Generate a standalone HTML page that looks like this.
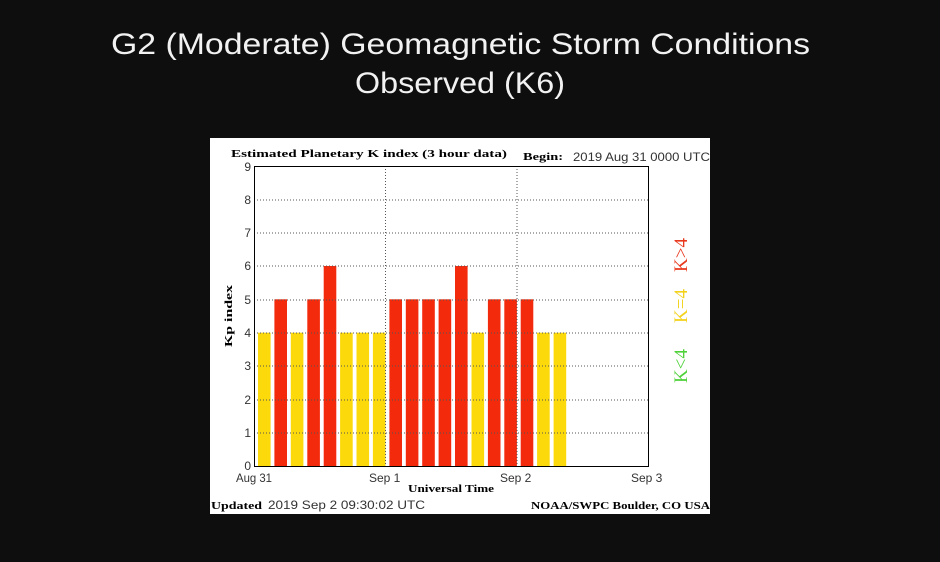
<!DOCTYPE html>
<html><head><style>html,body{margin:0;padding:0;background:#0e0e0e;}svg{display:block}</style></head>
<body>
<svg width="940" height="562" xmlns="http://www.w3.org/2000/svg">
<rect width="940" height="562" fill="#0e0e0e"/>
<g font-family="Liberation Sans, sans-serif" fill="#f2f2f2" font-size="30">
<text x="111" y="54" textLength="699" lengthAdjust="spacingAndGlyphs">G2 (Moderate) Geomagnetic Storm Conditions</text>
<text x="355" y="93" textLength="210" lengthAdjust="spacingAndGlyphs">Observed (K6)</text>
</g>
<rect x="210" y="138" width="500" height="376" fill="#fff"/>
<g font-family="Liberation Serif, serif" font-weight="bold" font-size="11" fill="#000">
<text x="231" y="157" textLength="276" lengthAdjust="spacingAndGlyphs">Estimated Planetary K index (3 hour data)</text>
<text x="523" y="160" textLength="40" lengthAdjust="spacingAndGlyphs">Begin:</text>
<text x="408" y="492" textLength="86" lengthAdjust="spacingAndGlyphs">Universal Time</text>
<text x="211" y="509" textLength="51" lengthAdjust="spacingAndGlyphs">Updated</text>
<text x="531" y="509" textLength="179" lengthAdjust="spacingAndGlyphs">NOAA/SWPC Boulder, CO USA</text>
<text transform="translate(232,347) rotate(-90)" textLength="62" lengthAdjust="spacingAndGlyphs">Kp index</text>
</g>
<g fill="#fcd90a">
<rect x="258.0" y="332.7" width="12.6" height="133.3"/>
<rect x="290.8" y="332.7" width="12.6" height="133.3"/>
<rect x="340.1" y="332.7" width="12.6" height="133.3"/>
<rect x="356.5" y="332.7" width="12.6" height="133.3"/>
<rect x="372.9" y="332.7" width="12.6" height="133.3"/>
<rect x="471.5" y="332.7" width="12.6" height="133.3"/>
<rect x="537.1" y="332.7" width="12.6" height="133.3"/>
<rect x="553.6" y="332.7" width="12.6" height="133.3"/>
</g>
<g fill="#f42a0c">
<rect x="274.4" y="299.3" width="12.6" height="166.7"/>
<rect x="307.3" y="299.3" width="12.6" height="166.7"/>
<rect x="323.7" y="266" width="12.6" height="200"/>
<rect x="389.4" y="299.3" width="12.6" height="166.7"/>
<rect x="405.8" y="299.3" width="12.6" height="166.7"/>
<rect x="422.2" y="299.3" width="12.6" height="166.7"/>
<rect x="438.6" y="299.3" width="12.6" height="166.7"/>
<rect x="455.0" y="266" width="12.6" height="200"/>
<rect x="487.9" y="299.3" width="12.6" height="166.7"/>
<rect x="504.3" y="299.3" width="12.6" height="166.7"/>
<rect x="520.7" y="299.3" width="12.6" height="166.7"/>
</g>
<g font-family="Liberation Sans, sans-serif" font-size="12" fill="#333">
<text x="573" y="161" textLength="137" lengthAdjust="spacingAndGlyphs">2019 Aug 31 0000 UTC</text>
<text x="268" y="509" textLength="157" lengthAdjust="spacingAndGlyphs">2019 Sep  2 09:30:02 UTC</text>
<text x="236" y="482" textLength="36" lengthAdjust="spacingAndGlyphs">Aug 31</text>
<text x="369" y="482">Sep 1</text>
<text x="500" y="482">Sep 2</text>
<text x="631" y="482">Sep 3</text>
<g text-anchor="end">
<text x="251" y="470">0</text><text x="251" y="437">1</text><text x="251" y="404">2</text>
<text x="251" y="370">3</text><text x="251" y="337">4</text><text x="251" y="304">5</text>
<text x="251" y="270">6</text><text x="251" y="237">7</text><text x="251" y="204">8</text>
<text x="251" y="171">9</text>
</g>
</g>
<g stroke="#555" stroke-width="1" stroke-dasharray="1,2" fill="none">
<line x1="254" y1="433" x2="648" y2="433"/><line x1="254" y1="400" x2="648" y2="400"/>
<line x1="254" y1="366" x2="648" y2="366"/><line x1="254" y1="333" x2="648" y2="333"/>
<line x1="254" y1="300" x2="648" y2="300"/><line x1="254" y1="266" x2="648" y2="266"/>
<line x1="254" y1="233" x2="648" y2="233"/><line x1="254" y1="200" x2="648" y2="200"/>
<line x1="385.5" y1="166" x2="385.5" y2="466"/><line x1="517" y1="166" x2="517" y2="466"/>
</g>
<rect x="254.5" y="166.5" width="394" height="300" fill="none" stroke="#000"/>
<g font-family="Liberation Serif, serif" font-size="19">
<text transform="translate(687,255) rotate(-90)" fill="#e8391e" text-anchor="middle">K&gt;4</text>
<text transform="translate(687,306) rotate(-90)" fill="#f2d21a" text-anchor="middle">K=4</text>
<text transform="translate(687,366) rotate(-90)" fill="#4fd13a" text-anchor="middle">K&lt;4</text>
</g>
</svg>
</body></html>
